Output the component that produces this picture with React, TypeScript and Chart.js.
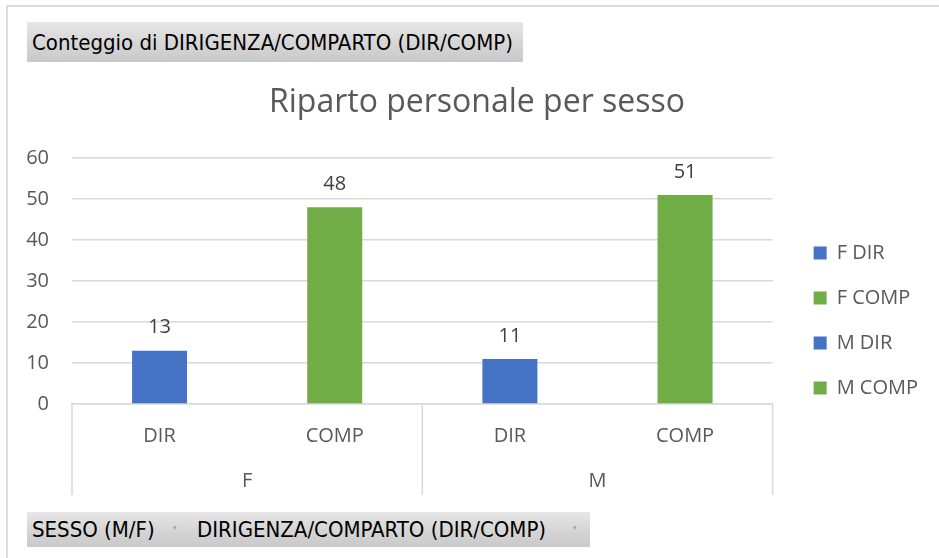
import React, { useEffect, useRef } from "react";
import { Chart, registerables } from "chart.js";

Chart.register(...registerables);

const categories = ["DIR", "COMP", "DIR", "COMP"];
const groups = ["F", "M"];
const values = [13, 48, 11, 51];
const legendLabels = ["F DIR", "F COMP", "M DIR", "M COMP"];
const barColors = ["#4472C4", "#70AD47", "#4472C4", "#70AD47"];
const yMin = 0;
const yMax = 60;
const yStep = 10;
const chartTitle = "Riparto personale per sesso";
const valueField = "Conteggio di DIRIGENZA/COMPARTO (DIR/COMP)";
const axisFields = ["SESSO (M/F)", "DIRIGENZA/COMPARTO (DIR/COMP)"];

const FONT = "'Open Sans', 'Noto Sans', sans-serif";
const TEXT = "#595959";
const GRID = "#d9d9d9";

const valueLabels = {
  id: "valueLabels",
  afterDatasetsDraw(chart: any) {
    const ctx = chart.ctx;
    const meta = chart.getDatasetMeta(0);
    const data = chart.data.datasets[0].data;
    ctx.save();
    ctx.font = `20px ${FONT}`;
    ctx.fillStyle = "#404040";
    ctx.textAlign = "center";
    ctx.textBaseline = "middle";
    meta.data.forEach((el: any, i: number) => {
      ctx.fillText(String(data[i]), el.x, el.y - 23);
    });
    ctx.restore();
  },
};

const groupDividers = {
  id: "groupDividers",
  afterDraw(chart: any) {
    const x = chart.scales.x;
    const x2 = chart.scales.x2;
    const ctx = chart.ctx;
    const mid = (x.getPixelForValue(1) + x.getPixelForValue(2)) / 2;
    const xs = [x.left, mid, x.right];
    ctx.save();
    ctx.strokeStyle = GRID;
    ctx.lineWidth = 1.5;
    ctx.beginPath();
    xs.forEach((px) => {
      ctx.moveTo(px, x.top);
      ctx.lineTo(px, x2.bottom + 2);
    });
    ctx.stroke();
    ctx.restore();
  },
};

const fieldBtn: React.CSSProperties = {
  position: "absolute",
  background: "linear-gradient(to bottom, #e6e6e6 0%, #d5d5d5 55%, #c9c9c9 100%)",
  color: "#000",
  fontFamily: "'DejaVu Sans Condensed', 'DejaVu Sans', sans-serif",
  fontSize: 22,
  display: "flex",
  alignItems: "center",
  boxSizing: "border-box",
  paddingLeft: 5,
  whiteSpace: "nowrap",
};

const arrow: React.CSSProperties = {
  position: "absolute",
  fontSize: 7,
  color: "#9a9a9a",
};

export default function App() {
  const canvasRef = useRef<HTMLCanvasElement | null>(null);

  useEffect(() => {
    const canvas = canvasRef.current;
    if (!canvas) return;
    const chart = new Chart(canvas, {
      type: "bar",
      data: {
        labels: categories,
        datasets: [
          {
            data: values,
            backgroundColor: barColors,
            borderWidth: 0,
            categoryPercentage: 1,
            barPercentage: 0.314,
          },
        ],
      },
      options: {
        responsive: false,
        animation: false,
        events: [],
        font: { family: FONT },
        layout: { padding: { top: 70, left: 26, right: 11, bottom: 65 } },
        plugins: {
          title: {
            display: true,
            text: chartTitle,
            color: TEXT,
            font: { size: 32, family: FONT, weight: "normal" },
            padding: { top: 13.8, bottom: 35.8 },
          },
          legend: {
            position: "right",
            align: "start",
            title: {
              display: true,
              text: "",
              font: { size: 10 },
              padding: { top: 136, bottom: 0 },
            },
            labels: {
              boxWidth: 13,
              boxHeight: 13,
              padding: 25,
              color: TEXT,
              font: { size: 20, family: FONT },
              generateLabels: () =>
                legendLabels.map((t, i) => ({
                  text: t,
                  fillStyle: barColors[i],
                  strokeStyle: barColors[i],
                  lineWidth: 0,
                  hidden: false,
                  index: i,
                  datasetIndex: 0,
                  fontColor: TEXT,
                })),
            },
          },
          tooltip: { enabled: false },
        },
        scales: {
          x: {
            type: "category",
            position: "bottom",
            grid: { display: false, drawTicks: false },
            border: { display: true, color: GRID, width: 1.5 },
            ticks: {
              color: TEXT,
              font: { size: 20, family: FONT },
              padding: 20,
              maxRotation: 0,
              autoSkip: false,
            },
            afterFit: (s: any) => {
              s.height = 44;
            },
          },
          x2: {
            type: "category",
            position: "bottom",
            labels: groups,
            offset: true,
            grid: { display: false, drawTicks: false },
            border: { display: false },
            ticks: {
              color: TEXT,
              font: { size: 20, family: FONT },
              padding: 21.5,
              maxRotation: 0,
              autoSkip: false,
            },
            afterFit: (s: any) => {
              s.height = 45;
            },
          },
          y: {
            min: yMin,
            max: yMax,
            position: "left",
            grid: { color: GRID, lineWidth: 1.5, drawTicks: false },
            border: { display: false },
            ticks: {
              stepSize: yStep,
              color: TEXT,
              font: { size: 20, family: FONT },
              padding: 23,
            },
            afterFit: (s: any) => {
              s.width = 46;
            },
          },
          y2: {
            position: "right",
            display: true,
            grid: { display: false, drawTicks: false },
            ticks: { display: false },
            border: { display: false },
            afterFit: (s: any) => {
              s.width = 16;
            },
          },
        },
      } as any,
      plugins: [valueLabels, groupDividers],
    });
    return () => chart.destroy();
  }, []);

  return (
    <div
      style={{
        position: "absolute",
        left: 0,
        top: 0,
        width: 939,
        height: 558,
        overflow: "hidden",
        background: "#fff",
      }}
    >
      <div
        style={{
          position: "absolute",
          left: 6,
          top: 5,
          width: 1000,
          height: 700,
          border: "2px solid #dcdcdc",
        }}
      />
      <canvas
        ref={canvasRef}
        width={939}
        height={558}
        style={{ position: "absolute", left: 0, top: 0, display: "block" }}
      />
      <div style={{ ...fieldBtn, left: 27, top: 22, width: 496, height: 40 }}>
        {valueField}
      </div>
      <div style={{ ...fieldBtn, left: 27, top: 512, width: 165, height: 35 }}>
        {axisFields[0]}
        <span style={{ ...arrow, left: 146, top: 12 }}>▾</span>
      </div>
      <div style={{ ...fieldBtn, left: 192, top: 512, width: 398, height: 35 }}>
        {axisFields[1]}
        <span style={{ ...arrow, left: 381, top: 12 }}>▾</span>
      </div>
    </div>
  );
}
